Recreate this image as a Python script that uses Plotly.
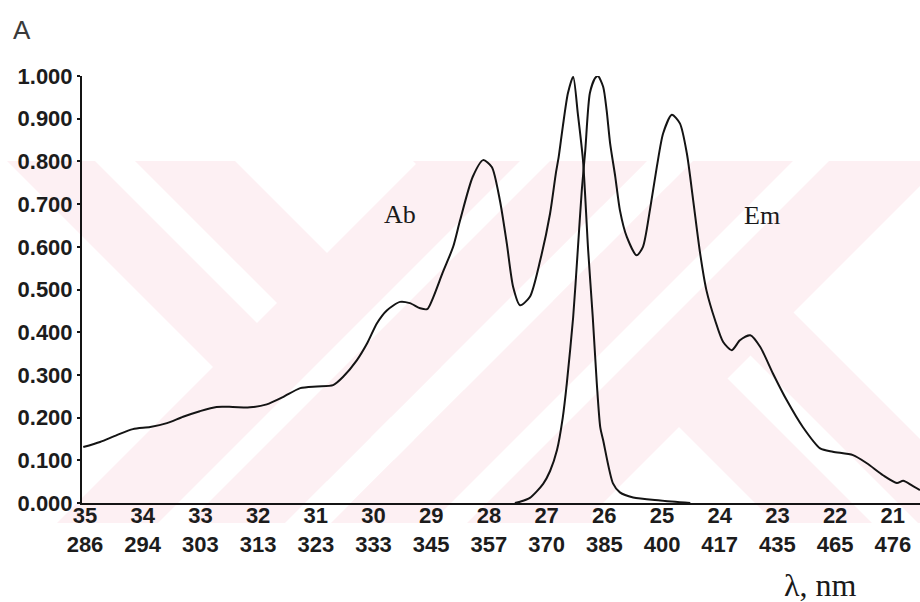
import plotly.graph_objects as go

# Wavenumber scale (10^3 cm^-1) with the matching wavelength labels (nm)
wavenumber_ticks = [35, 34, 33, 32, 31, 30, 29, 28, 27, 26, 25, 24, 23, 22, 21]
wavelength_labels = ["286", "294", "303", "313", "323", "333", "345", "357",
                     "370", "385", "400", "417", "435", "465", "476"]
absorbance_ticks = [0.0, 0.1, 0.2, 0.3, 0.4, 0.5, 0.6, 0.7, 0.8, 0.9, 1.0]

# Absorption spectrum (Ab)
ab_nu = [35.03, 34.74, 34.45, 34.17, 33.87, 33.58, 33.30, 33.01, 32.72, 32.44,
         32.14, 31.85, 31.57, 31.27, 30.98, 30.70, 30.53, 30.29, 30.11, 29.94,
         29.77, 29.54, 29.37, 29.19, 29.07, 28.97, 28.80, 28.62, 28.50, 28.28,
         28.10, 27.95, 27.81, 27.69, 27.58, 27.46, 27.29, 27.11, 26.94, 26.84,
         26.79, 26.72, 26.63, 26.54, 26.46, 26.37, 26.28, 26.20, 26.13, 26.07,
         26.02, 25.85, 25.73, 25.50, 25.03, 24.51]
ab_a = [0.131, 0.143, 0.159, 0.173, 0.178, 0.187, 0.202, 0.215, 0.225, 0.225,
        0.224, 0.231, 0.248, 0.269, 0.273, 0.276, 0.295, 0.334, 0.374, 0.421,
        0.451, 0.471, 0.468, 0.456, 0.454, 0.480, 0.540, 0.600, 0.662, 0.764,
        0.803, 0.787, 0.709, 0.608, 0.506, 0.463, 0.483, 0.569, 0.678, 0.772,
        0.811, 0.881, 0.960, 0.998, 0.913, 0.803, 0.592, 0.435, 0.280, 0.177,
        0.147, 0.046, 0.025, 0.013, 0.006, 0.0]

# Emission spectrum (Em)
em_nu = [27.55, 27.46, 27.29, 27.06, 26.94, 26.82, 26.72, 26.65, 26.54, 26.46,
         26.39, 26.33, 26.25, 26.16, 26.11, 26.02, 25.96, 25.90, 25.81, 25.73,
         25.61, 25.44, 25.33, 25.21, 25.09, 24.98, 24.83, 24.69, 24.57, 24.46,
         24.34, 24.23, 24.08, 23.94, 23.79, 23.65, 23.47, 23.30, 23.08, 22.84,
         22.56, 22.26, 22.04, 21.69, 21.45, 21.17, 20.93, 20.82, 20.67, 20.53]
em_a = [0.0, 0.003, 0.012, 0.045, 0.075, 0.124, 0.200, 0.280, 0.435, 0.592,
        0.733, 0.826, 0.960, 0.995, 1.000, 0.975, 0.920, 0.843, 0.764, 0.686,
        0.623, 0.580, 0.600, 0.686, 0.787, 0.866, 0.909, 0.889, 0.819, 0.709,
        0.585, 0.498, 0.428, 0.377, 0.358, 0.381, 0.393, 0.366, 0.304, 0.241,
        0.178, 0.128, 0.120, 0.112, 0.093, 0.065, 0.047, 0.052, 0.041, 0.030]

W, H = 920, 602
ML, MR, MT, MB = 82, 0, 76, 99
PW, PH = W - ML - MR, H - MT - MB
X_RANGE = [35.052, 20.529]

INK = "#141414"
TICK_FONT = dict(family="Liberation Sans, Arial, sans-serif", size=22,
                 color="#1c1c1c", weight="bold")
SERIF = "Liberation Serif, Times New Roman, serif"


def to_paper(px, py):
    return (px - ML) / PW, (H - MB - py) / PH


def band_path(kind, lo, hi, top=161, bottom=523):
    # diagonal band between two 45-degree lines, given in pixel space
    if kind == "desc":
        pts = [(lo + top, top), (hi + top, top), (hi + bottom, bottom), (lo + bottom, bottom)]
    else:
        pts = [(lo - top, top), (hi - top, top), (hi - bottom, bottom), (lo - bottom, bottom)]
    p = [to_paper(x, y) for x, y in pts]
    return "M " + " L ".join(f"{x:.4f},{y:.4f}" for x, y in p) + " Z"


# pale background emblem: two crossed, striped bands
PINK = "#fdf0f3"
bands = [
    ("desc", -154, 74, PINK), ("desc", -66, -26, "white"),
    ("desc", 252, 481, PINK), ("desc", 349, 395, "white"),
    ("asc", 808, 854, "white"),
    ("asc", 580, 808, PINK), ("asc", 681, 711, "white"),
    ("asc", 854, 1106, PINK), ("asc", 954, 990, "white"),
]
shapes = [dict(type="path", xref="paper", yref="paper", layer="below",
               path=band_path(k, lo, hi), fillcolor=c, line=dict(width=0))
          for k, lo, hi, c in bands]

fig = go.Figure()
fig.add_trace(go.Scatter(x=ab_nu, y=ab_a, mode="lines", name="Ab",
                         line=dict(color=INK, width=2, shape="spline", smoothing=0.7),
                         cliponaxis=False))
fig.add_trace(go.Scatter(x=em_nu, y=em_a, mode="lines", name="Em", xaxis="x2",
                         line=dict(color=INK, width=2, shape="spline", smoothing=0.7),
                         cliponaxis=False))

ax_a = to_paper(22, 30)
ax_lam = to_paper(820, 585)
annotations = [
    dict(text="Ab", x=29.54, y=0.676, xref="x", yref="y", showarrow=False,
         xanchor="center", yanchor="middle",
         font=dict(family=SERIF, size=26, color="#1a1a1a")),
    dict(text="Em", x=23.27, y=0.674, xref="x", yref="y", showarrow=False,
         xanchor="center", yanchor="middle",
         font=dict(family=SERIF, size=26, color="#1a1a1a")),
    dict(text="A", x=ax_a[0], y=ax_a[1], xref="paper", yref="paper", showarrow=False,
         xanchor="center", yanchor="middle",
         font=dict(family="Liberation Sans, Arial, sans-serif", size=26, color="#3a3a3a")),
    dict(text="λ, nm", x=ax_lam[0], y=ax_lam[1], xref="paper", yref="paper", showarrow=False,
         xanchor="center", yanchor="middle",
         font=dict(family=SERIF, size=32, color="#1a1a1a")),
]

fig.update_layout(
    width=W, height=H,
    margin=dict(l=ML, r=MR, t=MT, b=MB, pad=0),
    paper_bgcolor="white", plot_bgcolor="rgba(0,0,0,0)",
    showlegend=False,
    shapes=shapes,
    annotations=annotations,
    xaxis=dict(range=X_RANGE, tickmode="array", tickvals=wavenumber_ticks,
               ticktext=[str(v) for v in wavenumber_ticks], ticks="",
               showline=True, linecolor=INK, linewidth=2, showgrid=False,
               zeroline=False, tickfont=TICK_FONT, ticklabelstandoff=-8),
    xaxis2=dict(range=X_RANGE, overlaying="x", anchor="free", position=0, side="bottom",
                tickmode="array", tickvals=wavenumber_ticks, ticktext=wavelength_labels,
                ticks="", showline=False, showgrid=False, zeroline=False,
                tickfont=TICK_FONT, ticklabelstandoff=26),
    yaxis=dict(range=[0, 1], tickmode="array", tickvals=absorbance_ticks,
               tickformat=".3f", ticks="outside", ticklen=3, tickwidth=1.5,
               tickcolor=INK, showline=True, linecolor=INK, linewidth=2,
               showgrid=False, zeroline=False, tickfont=TICK_FONT),
)

fig.write_html("out.html")
